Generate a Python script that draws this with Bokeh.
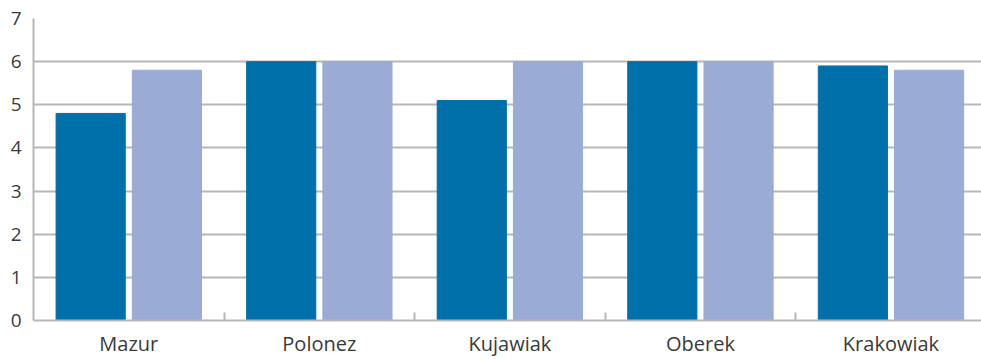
from bokeh.plotting import figure
from bokeh.models import Range1d, FixedTicker, ColumnDataSource
from bokeh.embed import file_html
from bokeh.resources import INLINE

categories = ["Mazur", "Polonez", "Kujawiak", "Oberek", "Krakowiak"]
series_a = [4.8, 6.0, 5.1, 6.0, 5.9]
series_b = [5.8, 6.0, 6.0, 6.0, 5.8]
y_ticks = [0, 1, 2, 3, 4, 5, 6, 7]

dark = "#0070AA"
light = "#9AABD6"
grid = "#B7B7B7"
txt = "#3A3A3A"
font = "Open Sans"

idx = list(range(len(categories)))
centers = [i + 0.5 for i in idx]
src = ColumnDataSource(dict(xa=[c - 0.2 for c in centers], xb=[c + 0.2 for c in centers],
                            a=series_a, b=series_b))

p = figure(width=981, height=359, output_backend="svg", toolbar_location=None,
           x_range=Range1d(0, 4.975), y_range=Range1d(0, 7),
           min_border_left=33, min_border_right=0, min_border_top=18, min_border_bottom=39)
p.outline_line_color = None
p.background_fill_color = "white"

p.vbar(x="xa", top="a", width=0.363, color=dark, source=src)
p.vbar(x="xb", top="b", width=0.363, color=light, source=src)

# y axis
p.yaxis.ticker = FixedTicker(ticks=y_ticks)
p.yaxis.major_tick_line_color = None
p.yaxis.minor_tick_line_color = None
p.yaxis.major_tick_out = 0
p.yaxis.minor_tick_out = 0
p.yaxis.axis_line_color = grid
p.yaxis.axis_line_width = 2
p.yaxis.major_label_standoff = 12
p.yaxis.major_label_text_font = font
p.yaxis.major_label_text_font_size = "19px"
p.yaxis.major_label_text_color = txt

# x axis: category names at centres, small ticks at category boundaries
p.xaxis.ticker = FixedTicker(ticks=centers, minor_ticks=[i for i in range(1, len(categories))])
p.xaxis.major_label_overrides = {c: name for c, name in zip(centers, categories)}
p.xaxis.major_tick_line_color = None
p.xaxis.major_tick_in = 0
p.xaxis.major_tick_out = 0
p.xaxis.minor_tick_line_color = grid
p.xaxis.minor_tick_line_width = 2
p.xaxis.minor_tick_in = 8
p.xaxis.minor_tick_out = 0
p.xaxis.axis_line_color = grid
p.xaxis.axis_line_width = 2
p.xaxis.major_label_standoff = 9
p.xaxis.major_label_text_font = font
p.xaxis.major_label_text_font_size = "20px"
p.xaxis.major_label_text_color = txt

p.xgrid.grid_line_color = None
p.ygrid.grid_line_color = grid
p.ygrid.grid_line_width = 2

open("out.html", "w").write(file_html(p, INLINE))
